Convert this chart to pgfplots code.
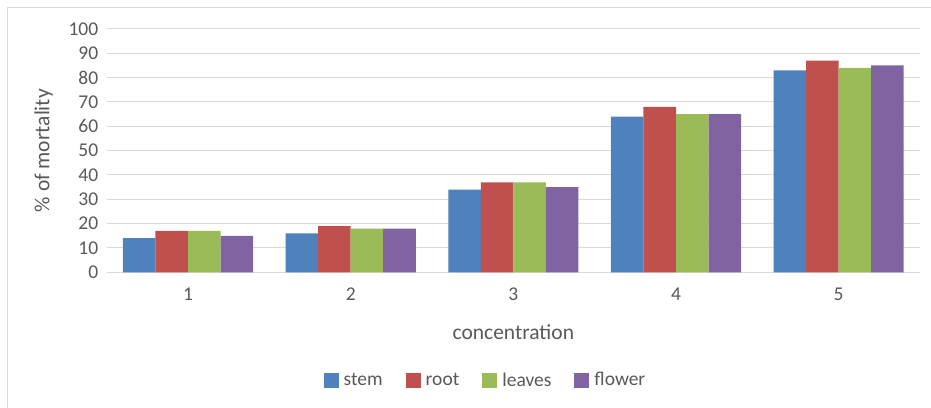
\documentclass[border=0pt]{standalone}
\usepackage{fontspec}
\setmainfont{Carlito}
\usepackage{pgfplots}
\pgfplotsset{compat=1.18}
\definecolor{cstem}{HTML}{4F81BD}
\definecolor{croot}{HTML}{C0504D}
\definecolor{cleaves}{HTML}{9BBB59}
\definecolor{cflower}{HTML}{8064A2}
\definecolor{gridc}{HTML}{D9D9D9}
\definecolor{txt}{HTML}{595959}
\begin{document}
\begin{tikzpicture}[x=1pt,y=1pt]
\fill[white] (0,0) rectangle (931,407);
\path[use as bounding box] (0,0) rectangle (931,407);
\draw[gridc, line width=0.8pt] (7,-2) -- (7,400) -- (933,400);
\begin{axis}[
  at={(106.7pt,134.7pt)}, anchor=south west,
  scale only axis, width=813.3pt, height=243.3pt,
  ybar=0pt, bar width=0.2,
  xmin=0.5, xmax=5.5, ymin=0, ymax=100,
  xtick={1,2,3,4,5}, ytick={0,10,...,100},
  axis line style={draw=none},
  major tick length=0pt,
  ymajorgrids, grid style={gridc, line width=1pt},
  /pgf/number format/assume math mode=true,
  ticklabel style={font=\fontsize{19.5}{22}\selectfont, text=txt},
  yticklabel style={xshift=-5pt},
  xticklabel style={yshift=-12pt},
  xlabel={concentration}, ylabel={\% of mortality},
  label style={font=\fontsize{21.5}{24}\selectfont, text=txt},
  xlabel style={at={(0.5,0)}, anchor=center, yshift=-60pt},
  ylabel style={at={(0,0.5)}, anchor=center, yshift=63pt},
  legend columns=4,
  legend style={draw=none, fill=none, at={(378.8pt,-107.7pt)}, anchor=center,
    font=\fontsize{19.5}{22}\selectfont, text=txt,
    /tikz/every odd column/.append style={column sep=3pt},
    /tikz/every even column/.append style={column sep=21pt},
    inner sep=0pt},
  legend image code/.code={\fill[#1] (0pt,-7.5pt) rectangle (15pt,7.5pt);},
  clip=false,
]
\addplot[fill=cstem, draw=none] coordinates {(1,14) (2,16) (3,34) (4,64) (5,83)};
\addplot[fill=croot, draw=none] coordinates {(1,17) (2,19) (3,37) (4,68) (5,87)};
\addplot[fill=cleaves, draw=none] coordinates {(1,17) (2,18) (3,37) (4,65) (5,84)};
\addplot[fill=cflower, draw=none] coordinates {(1,15) (2,18) (3,35) (4,65) (5,85)};
\legend{stem,root,leaves,flower}
\end{axis}
\end{tikzpicture}
\end{document}
